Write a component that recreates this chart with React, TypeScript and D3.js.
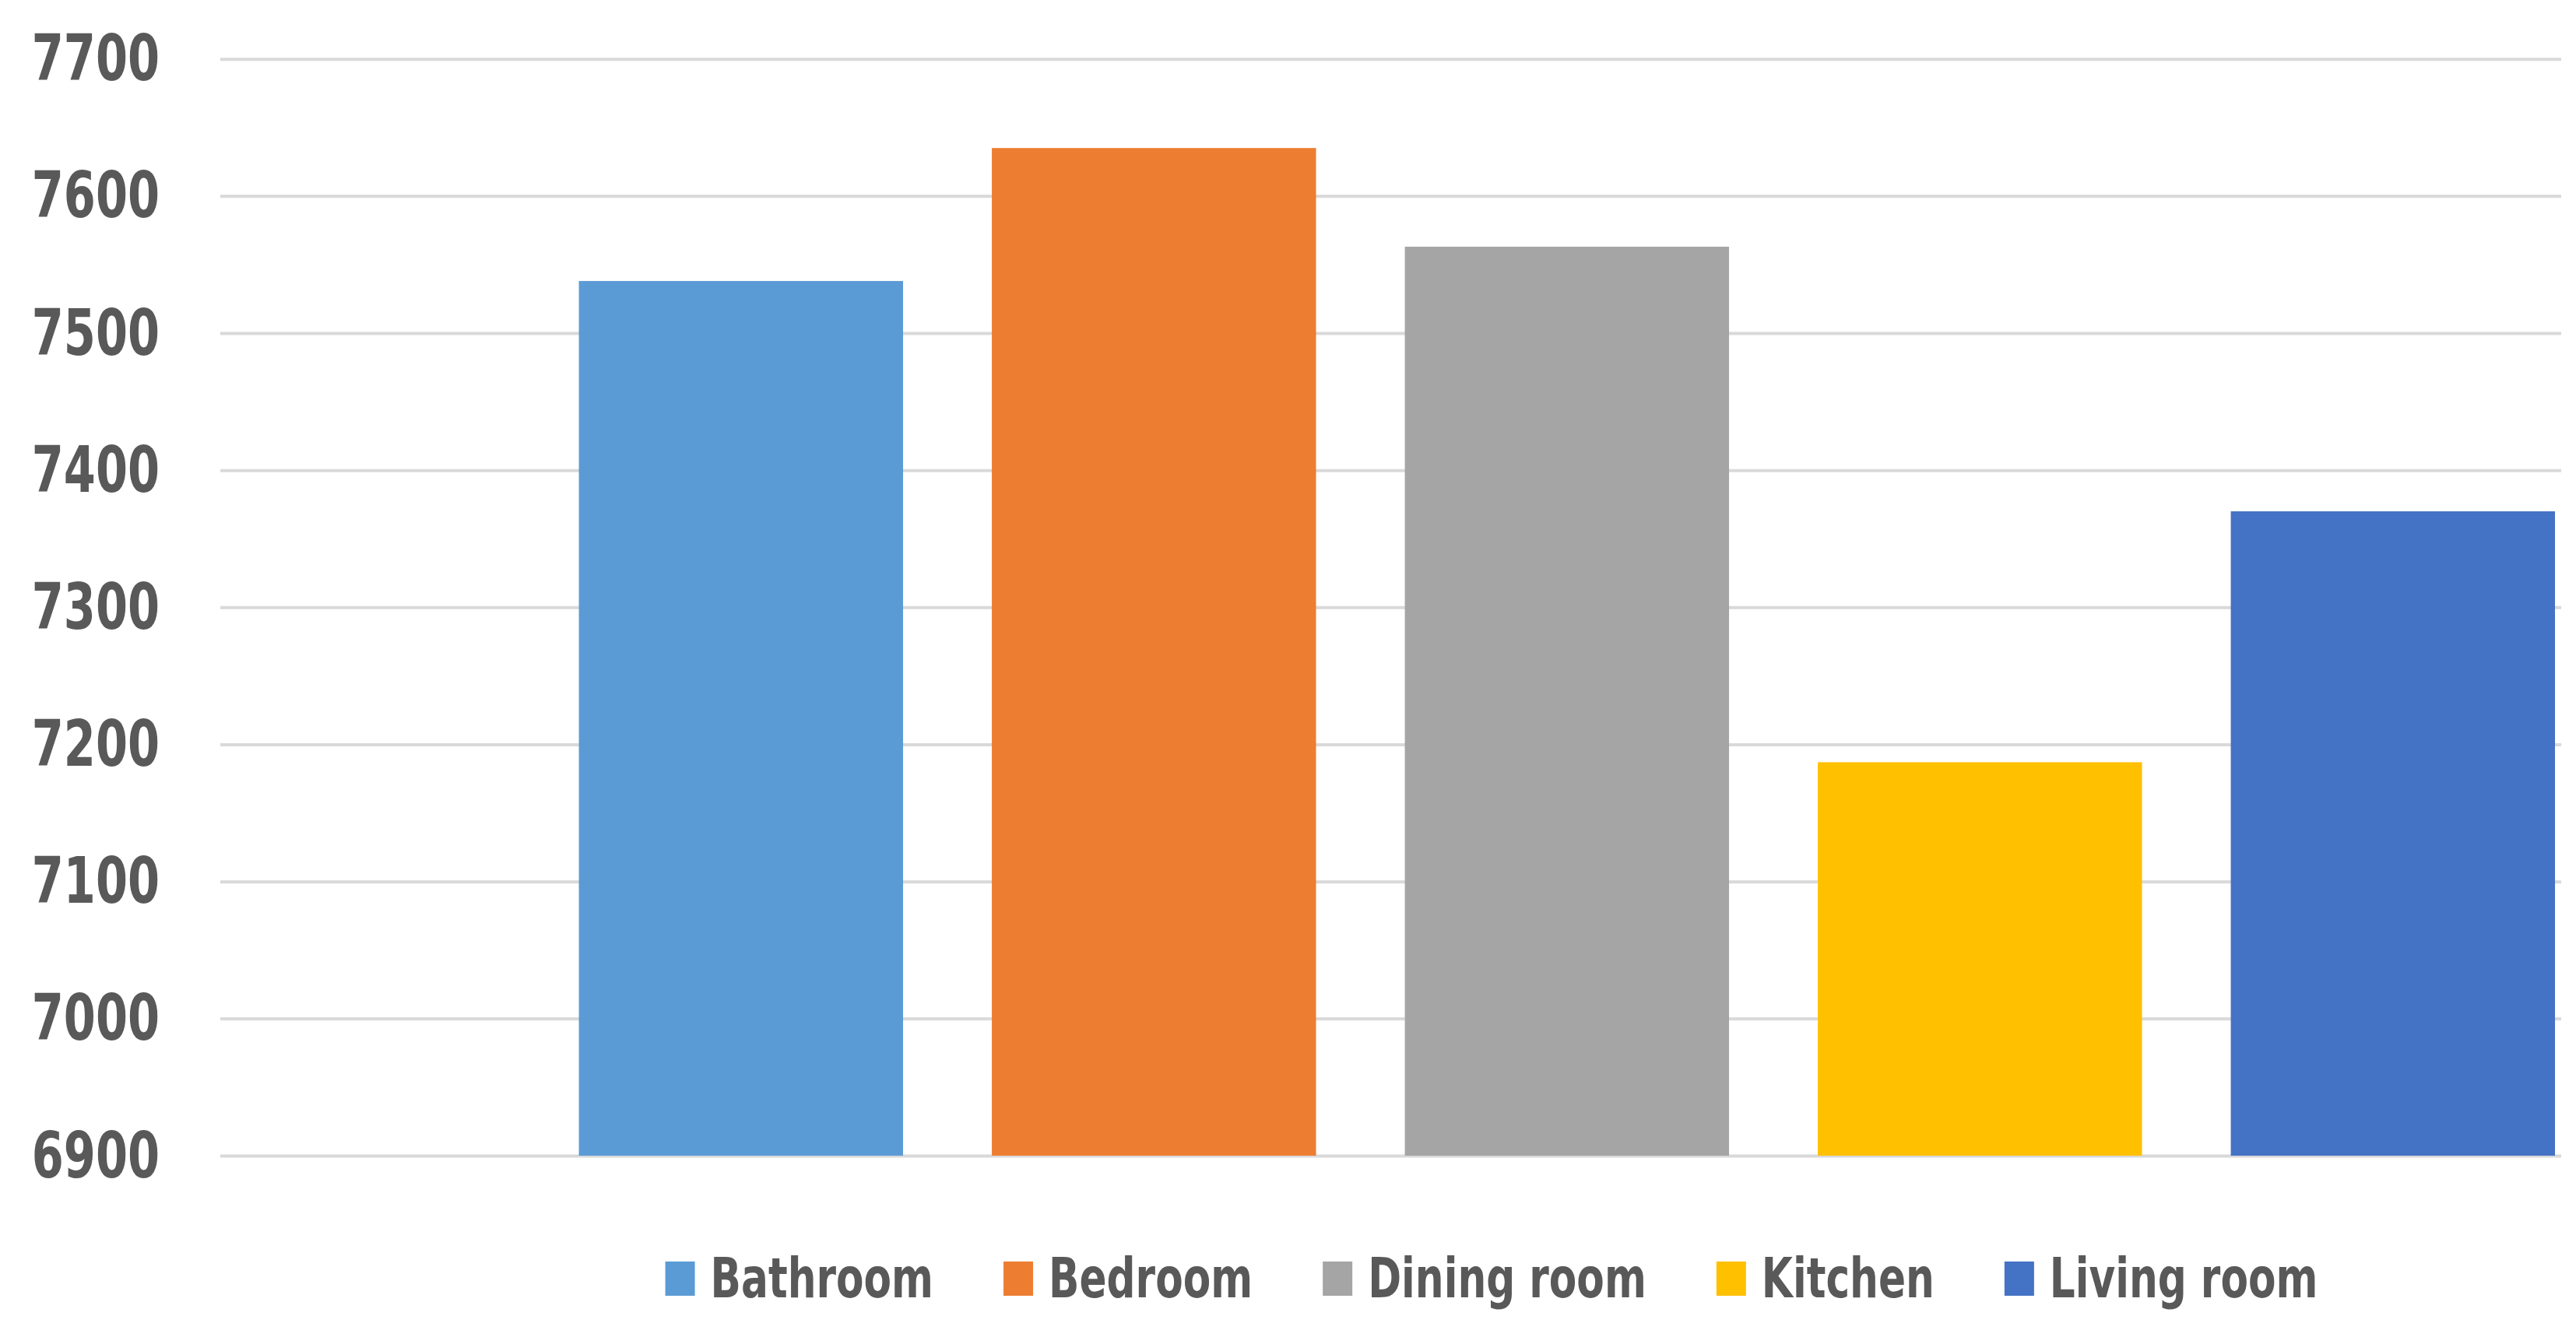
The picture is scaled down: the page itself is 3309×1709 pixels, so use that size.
import React, { useRef, useEffect } from "react";
import * as d3 from "d3";

const categories = ["Bathroom", "Bedroom", "Dining room", "Kitchen", "Living room"];
const values = [7538, 7635, 7563, 7187, 7370];
const colors = ["#5B9BD5", "#ED7D31", "#A5A5A5", "#FFC000", "#4472C4"];
const yTicks = [6900, 7000, 7100, 7200, 7300, 7400, 7500, 7600, 7700];

const FONT = "'Liberation Sans Narrow', 'DejaVu Sans Condensed', sans-serif";

// squeeze text horizontally so it reads like the narrow Calibri of the source
const condense = (sel: any, factor: number) => {
  sel.each(function (this: SVGTextElement) {
    const w = this.getComputedTextLength();
    d3.select(this).attr("textLength", w * factor).attr("lengthAdjust", "spacingAndGlyphs");
  });
};

const App = () => {
  const svgRef = useRef<SVGSVGElement>(null);

  useEffect(() => {
    const width = 3309;
    const height = 1709;
    const grid = { left: 283, right: 3290, top: 75.7, bottom: 1485 };

    const svg = d3.select(svgRef.current).attr("width", width).attr("height", height);
    svg.selectAll("*").remove();

    const y = d3.scaleLinear().domain([6900, 7700]).range([grid.bottom, grid.top]);

    // bars sit right of the first gridline area, as in the source chart
    const x = d3
      .scaleBand()
      .domain(categories)
      .range([743.6, 3282])
      .paddingInner(0.215)
      .paddingOuter(0);

    const yAxis = d3
      .axisLeft(y)
      .tickValues(yTicks)
      .tickSize(-(grid.right - grid.left))
      .tickPadding(78)
      .tickFormat(d3.format("d"));

    const gy = svg.append("g").attr("transform", `translate(${grid.left},0)`).call(yAxis);
    gy.select(".domain").remove();
    gy.selectAll(".tick line").attr("stroke", "#D9D9D9").attr("stroke-width", 4);
    const tickText = gy
      .selectAll(".tick text")
      .attr("fill", "#595959")
      .attr("font-family", FONT)
      .attr("font-weight", "bold")
      .attr("font-size", 82)
      .attr("dy", "0.33em");
    condense(tickText, 0.8);

    svg
      .selectAll(".bar")
      .data(values)
      .enter()
      .append("rect")
      .attr("x", (_, i) => x(categories[i]) as number)
      .attr("y", (d) => y(d))
      .attr("width", x.bandwidth())
      .attr("height", (d) => grid.bottom - y(d))
      .attr("fill", (_, i) => colors[i]);

    // legend, laid out from measured text widths
    const legend = svg.append("g");
    const sw = 38;
    const textGap = 20;
    const itemGap = 90;
    const items = categories.map((c, i) => {
      const g = legend.append("g");
      g.append("rect").attr("width", sw).attr("height", 44).attr("y", 1621).attr("fill", colors[i]);
      const t = g
        .append("text")
        .attr("x", sw + textGap)
        .attr("y", 1667)
        .attr("fill", "#595959")
        .attr("font-family", FONT)
        .attr("font-weight", "bold")
        .attr("font-size", 71)
        .text(c);
      condense(t, 0.81);
      const w = +t.attr("textLength");
      return { g, w: sw + textGap + w };
    });
    const total = d3.sum(items, (d) => d.w) + itemGap * (items.length - 1);
    let cx = 1916 - total / 2;
    items.forEach((it) => {
      it.g.attr("transform", `translate(${cx},0)`);
      cx += it.w + itemGap;
    });
  }, []);

  return (
    <svg
      ref={svgRef}
      style={{ position: "absolute", left: 0, top: 0, display: "block", background: "#fff" }}
    ></svg>
  );
};

export default App;
